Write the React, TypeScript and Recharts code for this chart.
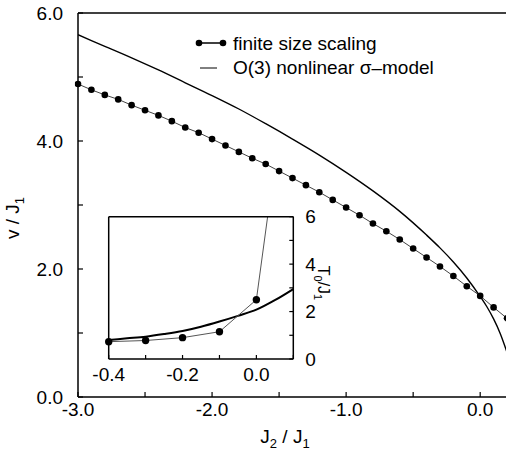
import { LineChart, Line, XAxis, YAxis, Legend } from "recharts";

// main panel: velocity v/J1 vs J2/J1
const fssJ2 = [
  -3.0, -2.9, -2.8, -2.7, -2.6, -2.5, -2.4, -2.3, -2.2, -2.1, -2.0, -1.9, -1.8,
  -1.7, -1.6, -1.5, -1.4, -1.3, -1.2, -1.1, -1.0, -0.9, -0.8, -0.7, -0.6, -0.5,
  -0.4, -0.3, -0.2, -0.1, 0.0, 0.1, 0.2,
];
const fssV = [
  4.89, 4.8, 4.72, 4.65, 4.56, 4.48, 4.4, 4.31, 4.21, 4.13, 4.03, 3.93, 3.83,
  3.73, 3.64, 3.53, 3.42, 3.31, 3.2, 3.08, 2.96, 2.84, 2.71, 2.59, 2.46, 2.32,
  2.18, 2.04, 1.89, 1.73, 1.58, 1.4, 1.23,
];

const sigmaJ2 = [
  -3.0, -2.8, -2.6, -2.4, -2.2, -2.0, -1.8, -1.6, -1.4, -1.2, -1.0, -0.8, -0.6,
  -0.4, -0.3, -0.2, -0.1, 0.0, 0.05, 0.1, 0.15, 0.2,
];
const sigmaV = [
  5.66, 5.48, 5.3, 5.11, 4.91, 4.71, 4.5, 4.27, 4.03, 3.78, 3.51, 3.22, 2.9,
  2.53, 2.33, 2.11, 1.86, 1.57, 1.41, 1.22, 0.99, 0.7,
];

const mainXTicks = [-3.0, -2.5, -2.0, -1.5, -1.0, -0.5, 0.0];
const mainYTicks = [0, 1, 2, 3, 4, 5, 6];

// inset: T0/J1
const insetJ2 = [-0.4, -0.3, -0.2, -0.1, 0.0, 0.1];
const insetT = [0.73, 0.78, 0.9, 1.15, 2.5, 14.0];

const insetSigmaJ2 = [-0.4, -0.35, -0.3, -0.25, -0.2, -0.15, -0.1, -0.05, 0.0, 0.05, 0.1];
const insetSigmaT = [0.8, 0.87, 0.94, 1.05, 1.18, 1.36, 1.58, 1.82, 2.08, 2.48, 2.95];

const insetXTicks = [-0.4, -0.3, -0.2, -0.1, 0.0, 0.1];
const insetYTicks = [0, 1, 2, 3, 4, 5, 6];

const zip = (xs: number[], ys: number[]) => xs.map((x, i) => ({ x, y: ys[i] }));

const fssData = zip(fssJ2, fssV);
const sigmaData = zip(sigmaJ2, sigmaV);
const insetFss = zip(insetJ2, insetT);
const insetSigma = zip(insetSigmaJ2, insetSigmaT);

const FONT = '"Liberation Sans", Arial, Helvetica, sans-serif';
const axisLine = { stroke: "#000", strokeWidth: 1.5 };
const tickLine = { stroke: "#000", strokeWidth: 1.2 };
const tickStyle = { fill: "#000", fontSize: 19, fontFamily: FONT };

const fmtMainX = (v: number) => (Number.isInteger(v) ? v.toFixed(1) : "");
const fmtMainY = (v: number) => (v % 2 === 0 ? v.toFixed(1) : "");
const fmtInsetX = (v: number) =>
  Math.round(v * 10) % 2 === 0 && v < 0.05 ? v.toFixed(1) : "";
const fmtInsetY = (v: number) => (v % 2 === 0 ? String(v) : "");

const renderLegend = () => (
  <svg width={300} height={60} style={{ display: "block" }}>
    <line x1={9} y1={18} x2={33} y2={18} stroke="#000" strokeWidth={1.5} />
    <circle cx={9} cy={18} r={3.3} fill="#000" />
    <circle cx={33} cy={18} r={3.3} fill="#000" />
    <text x={43} y={25} fontSize={19} fontFamily={FONT} fill="#000">
      finite size scaling
    </text>
    <line x1={10} y1={43} x2={27} y2={43} stroke="#000" strokeWidth={1} />
    <text x={43} y={49} fontSize={19} fontFamily={FONT} fill="#000">
      O(3) nonlinear σ–model
    </text>
  </svg>
);

export default function App() {
  return (
    <div
      style={{
        position: "absolute",
        left: 0,
        top: 0,
        width: 506,
        height: 454,
        overflow: "hidden",
        background: "#fff",
        fontFamily: FONT,
      }}
    >
      <LineChart
        width={520}
        height={454}
        margin={{ top: 12, right: 12, bottom: 0, left: 0 }}
      >
        <XAxis
          type="number"
          dataKey="x"
          domain={[-3, 0.2]}
          ticks={mainXTicks}
          interval={0}
          allowDataOverflow
          height={57}
          axisLine={axisLine}
          tickLine={tickLine}
          tickSize={-5}
          tickMargin={11}
          tick={tickStyle}
          tickFormatter={fmtMainX}
          label={() => (
            <text x={285} y={443} textAnchor="middle" fontSize={19} fontFamily={FONT} fill="#000">
              J<tspan fontSize={13} dy={5}>2</tspan>
              <tspan dy={-5}> / J</tspan>
              <tspan fontSize={13} dy={5}>1</tspan>
            </text>
          )}
        />
        <XAxis
          xAxisId="top"
          orientation="top"
          type="number"
          dataKey="x"
          domain={[-3, 0.2]}
          ticks={mainXTicks}
          interval={0}
          allowDataOverflow
          height={1}
          axisLine={axisLine}
          tickLine={tickLine}
          tickSize={-5}
          tick={false}
        />
        <YAxis
          type="number"
          domain={[0, 6]}
          ticks={mainYTicks}
          interval={0}
          allowDataOverflow
          width={78}
          axisLine={axisLine}
          tickLine={tickLine}
          tickSize={-5}
          tickMargin={20}
          tick={tickStyle}
          tickFormatter={fmtMainY}
          label={() => (
            <text
              x={19}
              y={218}
              transform="rotate(-90 19 218)"
              textAnchor="middle"
              fontSize={19}
              fontFamily={FONT}
              fill="#000"
            >
              v / J<tspan fontSize={13} dy={5}>1</tspan>
            </text>
          )}
        />
        <YAxis
          yAxisId="right"
          orientation="right"
          type="number"
          domain={[0, 6]}
          ticks={mainYTicks}
          interval={0}
          allowDataOverflow
          width={1}
          axisLine={axisLine}
          tickLine={tickLine}
          tickSize={-5}
          tick={false}
        />
        <Legend
          layout="vertical"
          align="center"
          verticalAlign="middle"
          wrapperStyle={{ top: 25, left: 190, width: 300, height: 60 }}
          content={renderLegend}
        />
        <Line
          name="O(3) nonlinear σ–model"
          data={sigmaData}
          dataKey="y"
          type="monotone"
          stroke="#000"
          strokeWidth={1.4}
          dot={false}
          activeDot={false}
          isAnimationActive={false}
        />
        <Line
          name="finite size scaling"
          data={fssData}
          dataKey="y"
          type="linear"
          stroke="#444"
          strokeWidth={1}
          dot={{ r: 3.3, fill: "#000", stroke: "#000", strokeWidth: 0, clipDot: false }}
          activeDot={false}
          isAnimationActive={false}
        />
      </LineChart>

      {/* inset */}
      <div style={{ position: "absolute", left: 80, top: 205 }}>
        <LineChart
          width={275}
          height={190}
          margin={{ top: 10.7, right: 25, bottom: 0, left: 27.7 }}
        >
          <XAxis
            type="number"
            dataKey="x"
            domain={[-0.4, 0.1]}
            ticks={insetXTicks}
            interval={0}
            allowDataOverflow
            height={36}
            axisLine={axisLine}
            tickLine={tickLine}
            tickSize={-4}
            tickMargin={13}
            tick={tickStyle}
            tickFormatter={fmtInsetX}
          />
          <XAxis
            xAxisId="top"
            orientation="top"
            type="number"
            dataKey="x"
            domain={[-0.4, 0.1]}
            ticks={insetXTicks}
            interval={0}
            allowDataOverflow
            height={1}
            axisLine={axisLine}
            tickLine={tickLine}
            tickSize={-4}
            tick={false}
          />
          <YAxis
            yAxisId="left"
            type="number"
            domain={[0, 6]}
            ticks={insetYTicks}
            interval={0}
            allowDataOverflow
            width={1}
            axisLine={axisLine}
            tickLine={tickLine}
            tickSize={-4}
            tick={false}
          />
          <YAxis
            yAxisId="r"
            orientation="right"
            type="number"
            domain={[0, 6]}
            ticks={insetYTicks}
            interval={0}
            allowDataOverflow
            width={36.7}
            axisLine={axisLine}
            tickLine={tickLine}
            tickSize={-4}
            tickMargin={16}
            tick={tickStyle}
            tickFormatter={fmtInsetY}
            label={() => (
              <text
                x={238}
                y={78}
                transform="rotate(90 238 78)"
                textAnchor="middle"
                fontSize={16}
                fontFamily={FONT}
                fill="#000"
              >
                T<tspan fontSize={11} dy={4}>0</tspan>
                <tspan dy={-4}>/J</tspan>
                <tspan fontSize={11} dy={4}>1</tspan>
              </text>
            )}
          />
          <Line
            yAxisId="r"
            data={insetSigma}
            dataKey="y"
            type="monotone"
            stroke="#000"
            strokeWidth={2}
            dot={false}
            activeDot={false}
            isAnimationActive={false}
          />
          <Line
            yAxisId="r"
            data={insetFss}
            dataKey="y"
            type="linear"
            stroke="#555"
            strokeWidth={1}
            dot={{ r: 3.7, fill: "#000", stroke: "#000", strokeWidth: 0, clipDot: false }}
            activeDot={false}
            isAnimationActive={false}
          />
        </LineChart>
      </div>
    </div>
  );
}
